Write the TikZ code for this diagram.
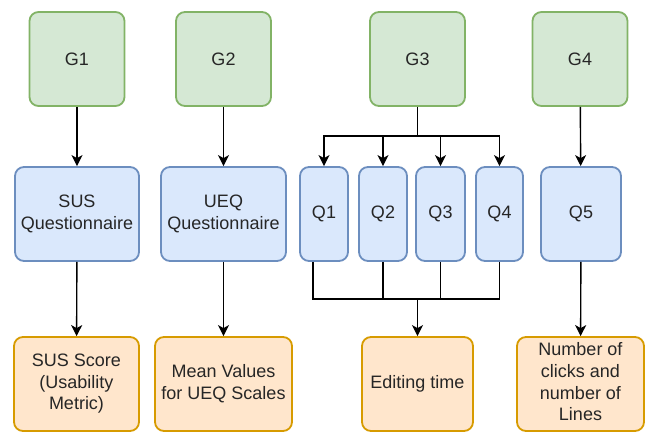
\documentclass[tikz,border=0pt]{standalone}
\usepackage{fontspec}
\setmainfont{Liberation Sans}
\usepackage[dvipsnames]{xcolor}
\usetikzlibrary{arrows, arrows.meta, shapes}
\definecolor{goalfill}{HTML}{D5E8D4}
\definecolor{goalline}{HTML}{82B366}
\definecolor{questfill}{HTML}{DAE8FC}
\definecolor{questline}{HTML}{6C8EBF}
\definecolor{metricfill}{HTML}{FFE6CC}
\definecolor{metricline}{HTML}{D79B00}
\tikzstyle{box} = [rectangle, rounded corners=9pt, line width=1.8pt, minimum height=94pt, inner sep=0pt, text centered, text=black!85, font=\fontsize{18}{21.6}\selectfont]
\tikzstyle{goal} = [box, minimum width=95pt, draw=goalline, fill=goalfill]
\tikzstyle{question} = [box, draw=questline, fill=questfill]
\tikzstyle{metric} = [box, draw=metricline, fill=metricfill]
\tikzstyle{arrow} = [line width=1.4pt,->,>={Stealth[length=11pt,width=11pt,inset=3pt]}]
\tikzstyle{link} = [line width=1.4pt]
\renewcommand{\arraystretch}{1}

\begin{document}
\begin{tikzpicture}[x=1pt, y=1pt, yscale=-1]
\useasboundingbox (0,0) rectangle (651,432);

% goals
\node at (77, 59) (g1) [goal] {G1};
\node at (223.5, 59) (g2) [goal] {G2};
\node at (417.5, 59) (g3) [goal] {G3};
\node at (580, 59) (g4) [goal] {G4};

% questions
\node at (77, 214) (sus) [question, minimum width=124pt] {\begin{tabular}{@{}c@{}} SUS \\ Questionnaire \end{tabular}};
\node at (223.5, 214) (ueq) [question, minimum width=125pt] {\begin{tabular}{@{}c@{}} UEQ \\ Questionnaire \end{tabular}};
\node at (324, 214) (q1) [question, minimum width=48pt] {Q1};
\node at (383, 214) (q2) [question, minimum width=48pt] {Q2};
\node at (440.5, 214) (q3) [question, minimum width=49pt] {Q3};
\node at (499.5, 214) (q4) [question, minimum width=47pt] {Q4};
\node at (581, 214) (q5) [question, minimum width=80pt] {Q5};

% metrics
\node at (76.5, 384) (score) [metric, minimum width=125pt] {\begin{tabular}{@{}c@{}} SUS Score \\ (Usability \\ Metric) \end{tabular}};
\node at (223.5, 384) (mean) [metric, minimum width=137pt] {\begin{tabular}{@{}c@{}} Mean Values \\ for UEQ Scales \end{tabular}};
\node at (417.5, 384) (edit) [metric, minimum width=111pt] {Editing time};
\node at (580.5, 384) (clicks) [metric, minimum width=127pt] {\begin{tabular}{@{}c@{}} Number of \\ clicks and \\ number of \\ Lines \end{tabular}};

\coordinate (split) at (417.5, 136);
\coordinate (join) at (417.5, 299);

\draw[arrow] (g1) -- (sus);
\draw[arrow] (g2) -- (ueq);
\draw[arrow] (g4) -- (q5);
\draw[link] (g3) -- (split);
\draw[arrow] (split) -| (q1);
\draw[arrow] (split) -| (q2);
\draw[arrow] (split) -| (q3);
\draw[arrow] (split) -| (q4);

\draw[arrow] (sus) -- (score);
\draw[arrow] (ueq) -- (mean);
\draw[arrow] (q5) -- (clicks);
\draw[link] ([xshift=-11pt]q1.south) |- (join);
\draw[link] (q2) |- (join);
\draw[link] (q3) |- (join);
\draw[link] (q4) |- (join);
\draw[arrow] (join) -- (edit);

\end{tikzpicture}
\end{document}
